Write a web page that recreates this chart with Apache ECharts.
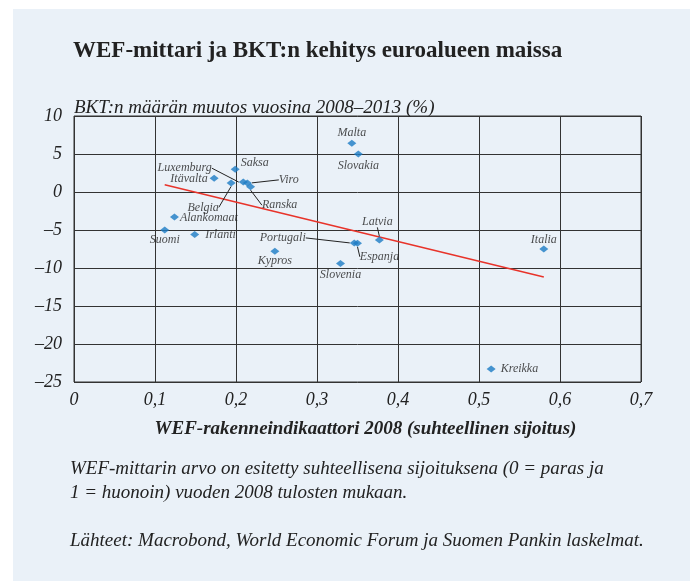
<!DOCTYPE html>
<html>
<head>
<meta charset="utf-8">
<script src="https://cdn.jsdelivr.net/npm/echarts@6/dist/echarts.min.js"></script>
<style>
html,body{margin:0;padding:0;background:#fff;}
#c{width:690px;height:581px;}
</style>
</head>
<body>
<div id="c"></div>
<script>
// ---- data ----
const countries = ['Malta','Slovakia','Saksa','Itävalta','Luxemburg','Belgia','Viro','Ranska','Alankomaat','Suomi','Irlanti','Kypros','Portugali','Espanja','Latvia','Slovenia','Italia','Kreikka'];
const wefRank = [0.343,0.351,0.199,0.173,0.209,0.194,0.214,0.218,0.124,0.112,0.149,0.248,0.346,0.350,0.377,0.329,0.580,0.515];
const gdpChange = [6.4,5.0,3.0,1.8,1.3,1.2,1.2,0.7,-3.3,-5.0,-5.6,-7.8,-6.7,-6.75,-6.3,-9.4,-7.5,-23.3];
const trendX = [0.112,0.580];
const trendY = [0.96,-11.18];
const xTicks = {min:0,max:0.7,step:0.1};
const yTicks = {min:-25,max:10,step:5};
const titleText = 'WEF-mittari ja BKT:n kehitys euroalueen maissa';
const yName = 'BKT:n määrän muutos vuosina 2008–2013 (%)';
const xName = 'WEF-rakenneindikaattori 2008 (suhteellinen sijoitus)';
const noteLines = ['WEF-mittarin arvo on esitetty suhteellisena sijoituksena (0 = paras ja','1 = huonoin) vuoden 2008 tulosten mukaan.'];
const sourceText = 'Lähteet: Macrobond, World Economic Forum ja Suomen Pankin laskelmat.';

// ---- label placement (style) ----
const labelPlace = {
  'Malta':{position:'top',distance:1},
  'Slovakia':{position:'bottom',distance:2},
  'Saksa':{position:'right',distance:4,dx:-3,dy:-6},
  'Itävalta':{position:'left',distance:4,dx:2,dy:1},
  'Luxemburg':{position:'left',distance:5,dx:-22,dy:-14,line:true},
  'Belgia':{position:'bottom',distance:5,dx:-28,dy:10,line:true},
  'Viro':{position:'right',distance:5,dx:22,dy:-3,line:true},
  'Ranska':{position:'bottom',distance:5,dx:29,dy:4,line:true},
  'Alankomaat':{position:'right',distance:1,dx:0,dy:1},
  'Suomi':{position:'bottom',distance:0},
  'Irlanti':{position:'right',distance:6},
  'Kypros':{position:'bottom',distance:0},
  'Portugali':{position:'left',distance:5,dx:-39,dy:-5,line:true},
  'Espanja':{position:'bottom',distance:5,dx:22,dy:-1,line:true},
  'Latvia':{position:'top',distance:10,dx:-2,dy:1,line:true},
  'Slovenia':{position:'bottom',distance:2},
  'Italia':{position:'top',distance:0},
  'Kreikka':{position:'right',distance:5}
};

const serif = '"Liberation Serif", "DejaVu Serif", serif';
const txt = '#222222';

const scatterData = countries.map((n,i)=>{
  const p = labelPlace[n] || {position:'right',distance:4};
  return {
    name:n, value:[wefRank[i], gdpChange[i]],
    label:{position:p.position, distance:p.distance},
    labelLine:{show: !!p.line}
  };
});

const chart = echarts.init(document.getElementById('c'), null, {renderer:'canvas'});
const fmtNum = v => String(v).replace('-', '–').replace('.', ',');

chart.setOption({
  backgroundColor:'#ffffff',
  animation:false,
  graphic:[
    {type:'rect', z:-100, shape:{x:13,y:9,width:677,height:572}, style:{fill:'#eaf1f8'}, silent:true},
    {type:'text', left:73, top:40, style:{text:titleText, font:'bold 23px '+serif, fill:txt}},
    {type:'text', left:70, top:457, style:{text:noteLines.join('\n'), font:'italic 19px '+serif, fill:txt, lineHeight:24}},
    {type:'text', left:70, top:531, style:{text:sourceText, font:'italic 19px '+serif, fill:txt}}
  ],
  grid:{left:74, right:49, top:116, bottom:199, show:true, borderColor:'#333', borderWidth:1, backgroundColor:'transparent'},
  xAxis:{
    type:'value', min:xTicks.min, max:xTicks.max, interval:xTicks.step,
    name:xName, nameLocation:'middle', nameGap:38,
    nameTextStyle:{fontFamily:serif, fontStyle:'italic', fontWeight:'bold', fontSize:19, color:txt, verticalAlign:'top', padding:[0,0,0,16]},
    axisLine:{show:false}, axisTick:{show:false},
    axisLabel:{formatter:fmtNum, fontFamily:serif, fontStyle:'italic', fontSize:18, color:txt, margin:9},
    splitLine:{show:true, lineStyle:{color:'#333', width:1}}
  },
  yAxis:{
    type:'value', min:yTicks.min, max:yTicks.max, interval:yTicks.step,
    name:yName, nameLocation:'end', nameGap:8,
    nameTextStyle:{fontFamily:serif, fontStyle:'italic', fontSize:19, color:txt, align:'left', verticalAlign:'middle'},
    axisLine:{show:false}, axisTick:{show:false},
    axisLabel:{formatter:fmtNum, fontFamily:serif, fontStyle:'italic', fontSize:18, color:txt, margin:12},
    splitLine:{show:true, lineStyle:{color:'#333', width:1}}
  },
  series:[
    {
      type:'line', data:trendX.map((x,i)=>[x,trendY[i]]), symbol:'none',
      lineStyle:{color:'#e8332a', width:1.5}, z:3, silent:true
    },
    {
      type:'scatter', data:scatterData, symbol:'diamond', symbolSize:[9,7],
      itemStyle:{color:'#1b7cc4'}, z:4,
      label:{show:true, formatter:'{b}', fontFamily:serif, fontStyle:'italic', fontSize:12, color:txt},
      labelLine:{show:false, lineStyle:{color:'#222', width:1}},
      labelLayout:function(params){
        const n = countries[params.dataIndex];
        const p = labelPlace[n];
        if (p && (p.dx!==undefined)) return {dx:p.dx, dy:p.dy};
        return {};
      }
    }
  ]
});
</script>
</body>
</html>
